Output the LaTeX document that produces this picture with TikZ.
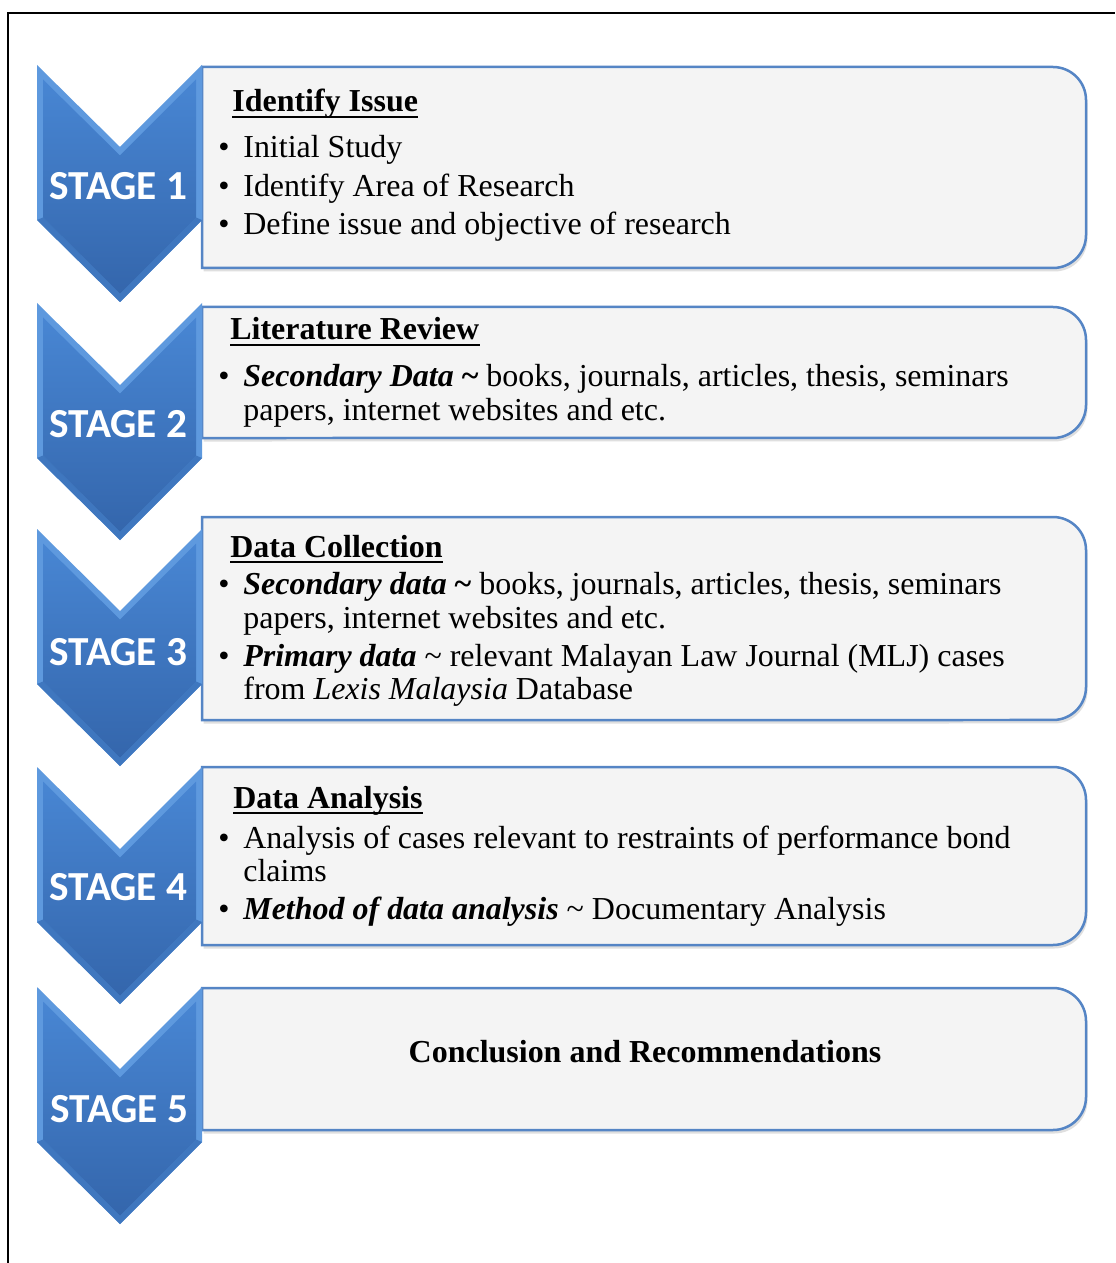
\documentclass[tikz,border=0pt]{standalone}
\usepackage{fontspec}
\setmainfont{Liberation Serif}
\newfontfamily\stagefont{Carlito}
\usetikzlibrary{shadows}

\definecolor{chevtop}{HTML}{4886D3}
\definecolor{chevbot}{HTML}{3466AC}
\definecolor{chevedge}{HTML}{5E99DE}
\definecolor{chevlow}{HTML}{3F77BF}
\definecolor{boxline}{HTML}{5585C5}
\definecolor{boxfill}{HTML}{F4F4F4}

\tikzset{
  stagelabel/.style={text=white, inner sep=0,
    font=\stagefont\bfseries\fontsize{23.5}{26}\selectfont},
  heading/.style={anchor=base west, inner sep=0,
    font=\bfseries\fontsize{18.2}{21}\selectfont},
  bodyline/.style={anchor=base west, inner sep=0,
    font=\fontsize{18.2}{21}\selectfont},
  bulletmark/.style={anchor=base, inner sep=0,
    font=\fontsize{18.2}{21}\selectfont},
  headrule/.style={line width=0.05cm},
  panel/.style={draw=boxline, line width=0.05cm, fill=boxfill,
    drop shadow={opacity=0.25, shadow xshift=0.03cm, shadow yshift=-0.07cm}},
  frameline/.style={line width=0.055cm},
  pics/chevron/.style={code={
    % bevelled outer rim
    \fill[chevedge] (37,0) -- (120,82) -- (202,0) -- (202,155)
      -- (120,237) -- (37,155) -- cycle;
    % slightly darker rim along the two lower edges
    \fill[chevlow] (37,155) -- (120,237) -- (202,155) -- (196,152.5)
      -- (120,228.5) -- (43,152.5) -- cycle;
    % face of the chevron
    \shade[top color=chevtop, bottom color=chevbot]
      (43,14.5) -- (120,90.5) -- (196,14.5) -- (196,152.5)
      -- (120,228.5) -- (43,152.5) -- cycle;
  }}
}

% box with square left corners and rounded right corners
\newcommand\stagepanel[2]{%
  \path[panel] (202,#1) -- (1053,#1)
    arc[start angle=90, end angle=0, radius=0.66cm]
    -- (1086,{#2-33})
    arc[start angle=0, end angle=-90, radius=0.66cm]
    -- (202,#2) -- cycle;}

\begin{document}
\begin{tikzpicture}[x=0.02cm, y=-0.02cm]
\useasboundingbox (0,0) rectangle (1115,1263);
\fill[white] (0,0) rectangle (1115,1263);

% outer frame
\draw[frameline] (8,1263) -- (8,13) -- (1115,13);

% text panels
\stagepanel{67}{268}
\stagepanel{307}{438}
\stagepanel{517}{720}
\stagepanel{767}{945}
\stagepanel{988}{1130}

% chevrons
\pic at (0,65) {chevron};
\pic at (0,303) {chevron};
\pic at (0,529) {chevron};
\pic at (0,767) {chevron};
\pic at (0,987) {chevron};

\node[stagelabel] (s1) at (118.5,186) {STAGE 1};
\node[stagelabel] (s2) at (118.5,424) {STAGE 2};
\node[stagelabel] (s3) at (118.5,652) {STAGE 3};
\node[stagelabel] (s4) at (118.5,887) {STAGE 4};
\node[stagelabel] (s5) at (119.5,1109) {STAGE 5};

% stage 1
\node[heading] (h1) at (232,112) {Identify Issue};
\draw[headrule] ([yshift=-0.1cm]h1.base west) -- ([yshift=-0.1cm]h1.base east);
\node[bulletmark] (b1a) at (224,158) {•};
\node[bodyline] (t1a) at (243,158) {Initial Study};
\node[bulletmark] (b1b) at (224,197) {•};
\node[bodyline] (t1b) at (243,197) {Identify Area of Research};
\node[bulletmark] (b1c) at (224,235) {•};
\node[bodyline] (t1c) at (243,235) {Define issue and objective of research};

% stage 2
\node[heading] (h2) at (230,340) {Literature Review};
\draw[headrule] ([yshift=-0.1cm]h2.base west) -- ([yshift=-0.1cm]h2.base east);
\node[bulletmark] (b2a) at (224,387) {•};
\node[bodyline] (t2a) at (243,387) {\textbf{\textit{Secondary Data} \textasciitilde} books, journals, articles, thesis, seminars};
\node[bodyline] (t2b) at (243,420) {papers, internet websites and etc.};

% stage 3
\node[heading] (h3) at (230,557) {Data Collection};
\draw[headrule] ([yshift=-0.1cm]h3.base west) -- ([yshift=-0.1cm]h3.base east);
\node[bulletmark] (b3a) at (224,594) {•};
\node[bodyline] (t3a) at (243,594) {\textbf{\textit{Secondary data} \textasciitilde} books, journals, articles, thesis, seminars};
\node[bodyline] (t3b) at (243,628) {papers, internet websites and etc.};
\node[bulletmark] (b3c) at (224,666) {•};
\node[bodyline] (t3c) at (243,666) {\textbf{\textit{Primary data}} \textasciitilde{} relevant Malayan Law Journal (MLJ) cases};
\node[bodyline] (t3d) at (243,699) {from \textit{Lexis Malaysia} Database};

% stage 4
\node[heading] (h4) at (233,808) {Data Analysis};
\draw[headrule] ([yshift=-0.1cm]h4.base west) -- ([yshift=-0.1cm]h4.base east);
\node[bulletmark] (b4a) at (224,848) {•};
\node[bodyline] (t4a) at (243,848) {Analysis of cases relevant to restraints of performance bond};
\node[bodyline] (t4b) at (243,881) {claims};
\node[bulletmark] (b4c) at (224,919) {•};
\node[bodyline] (t4c) at (243,919) {\textbf{\textit{Method of data analysis}} \textasciitilde{} Documentary Analysis};

% stage 5
\node[heading, anchor=center] (h5) at (645,1052) {Conclusion and Recommendations};
\end{tikzpicture}
\end{document}
